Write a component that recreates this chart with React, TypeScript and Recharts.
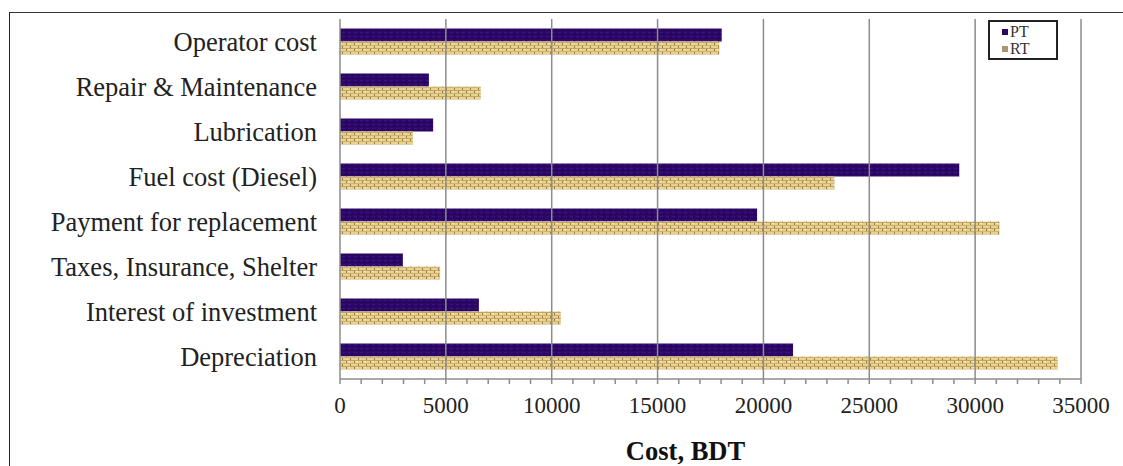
import React from "react";
import { BarChart, Bar, XAxis, YAxis, ReferenceLine } from "recharts";

// cost items, top to bottom
const categories = [
  "Operator cost",
  "Repair & Maintenance",
  "Lubrication",
  "Fuel cost (Diesel)",
  "Payment for replacement",
  "Taxes, Insurance, Shelter",
  "Interest of investment",
  "Depreciation",
];

const ptValues = [18030, 4200, 4400, 29250, 19700, 2970, 6560, 21400];
const rtValues = [17920, 6650, 3450, 23350, 31150, 4730, 10430, 33900];

const majorTicks = [0, 5000, 10000, 15000, 20000, 25000, 30000, 35000];
const minorTicks = [
  0, 1000, 2000, 3000, 4000, 5000, 6000, 7000, 8000, 9000, 10000, 11000, 12000,
  13000, 14000, 15000, 16000, 17000, 18000, 19000, 20000, 21000, 22000, 23000,
  24000, 25000, 26000, 27000, 28000, 29000, 30000, 31000, 32000, 33000, 34000,
  35000,
];

const data = categories.map((name, i) => ({
  name,
  PT: ptValues[i],
  RT: rtValues[i],
}));

const SERIF = "'Liberation Serif', 'Times New Roman', serif";
const GRID = "#8c8c8c";
const PT_COLOR = "#2c0866";

// only every 5000 gets a label, the rest are just minor tick marks
const CostTick = (props: any) => {
  const { x, y, payload } = props;
  if (payload.value % 5000 !== 0) return null;
  return (
    <text
      x={x}
      y={y}
      dy={29}
      textAnchor="middle"
      fontFamily={SERIF}
      fontSize={23}
      fill="#222"
    >
      {payload.value}
    </text>
  );
};

const App: React.FC = () => {
  return (
    <div
      style={{
        position: "absolute",
        left: 0,
        top: 0,
        width: 1123,
        height: 466,
        background: "#fff",
        overflow: "hidden",
      }}
    >
      {/* cropped outer frame: only top and left edges show */}
      <div
        style={{
          position: "absolute",
          left: 9,
          top: 12,
          right: 0,
          bottom: 0,
          borderTop: "1.5px solid #333",
          borderLeft: "1.5px solid #222",
        }}
      />
      <BarChart
        width={1123}
        height={466}
        data={data}
        layout="vertical"
        margin={{ top: 19, right: 42, bottom: 0, left: 0 }}
        barCategoryGap="21%"
        barGap={0}
        style={{ position: "absolute", left: 0, top: 0 }}
      >
        <defs>
          <pattern id="ptFill" width="6" height="4" patternUnits="userSpaceOnUse">
            <rect width="6" height="4" fill={PT_COLOR} />
            <rect x="0" y="0" width="3" height="1" fill="#3d1280" />
            <rect x="3" y="2" width="2" height="1" fill="#22054d" />
          </pattern>
          <pattern id="rtFill" width="8" height="6" patternUnits="userSpaceOnUse">
            <rect width="8" height="6" fill="#e8d290" />
            <rect x="0" y="0" width="8" height="1" fill="#c2a464" />
            <rect x="0" y="3" width="8" height="1" fill="#cfb374" />
            <rect x="2" y="1" width="1" height="2" fill="#9a7d44" />
            <rect x="6" y="4" width="1" height="2" fill="#9a7d44" />
            <rect x="4" y="1" width="2" height="1" fill="#f6e8b2" />
          </pattern>
        </defs>
        <XAxis
          type="number"
          domain={[0, 35000]}
          ticks={minorTicks}
          interval={0}
          height={87}
          tickSize={5}
          tickMargin={0}
          tick={<CostTick />}
          stroke={GRID}
          strokeWidth={1.5}
          label={{
            value: "Cost, BDT",
            position: "insideBottom",
            offset: 6,
            dx: -25,
            style: {
              fontFamily: SERIF,
              fontSize: 26.5,
              fontWeight: "bold",
              fill: "#111",
            },
          }}
        />
        <YAxis
          type="category"
          dataKey="name"
          width={340}
          tickLine={false}
          tickSize={0}
          tickMargin={23}
          interval={0}
          stroke={GRID}
          strokeWidth={1.5}
          tick={{ fontFamily: SERIF, fontSize: 26.5, fill: "#222" }}
        />
        {majorTicks.slice(1).map((v) => (
          <ReferenceLine key={v} x={v} stroke={GRID} strokeWidth={1.5} />
        ))}
        <Bar dataKey="PT" fill="url(#ptFill)" isAnimationActive={false} />
        <Bar dataKey="RT" fill="url(#rtFill)" isAnimationActive={false} />
      </BarChart>
      {/* legend box */}
      <div
        style={{
          position: "absolute",
          left: 988,
          top: 20,
          width: 70,
          height: 40,
          border: "2px solid #222",
          background: "#fff",
          fontFamily: SERIF,
          fontSize: 16,
          lineHeight: "17px",
          color: "#333",
          paddingLeft: 12,
          paddingTop: 1,
          boxSizing: "border-box",
        }}
      >
        {[
          { name: "PT", color: PT_COLOR },
          { name: "RT", color: "#a89670" },
        ].map((s) => (
          <div
            key={s.name}
            style={{ display: "flex", alignItems: "center", height: 17 }}
          >
            <span
              style={{
                display: "inline-block",
                width: 6,
                height: 6,
                background: s.color,
                marginRight: 2,
              }}
            />
            {s.name}
          </div>
        ))}
      </div>
    </div>
  );
};

export default App;
